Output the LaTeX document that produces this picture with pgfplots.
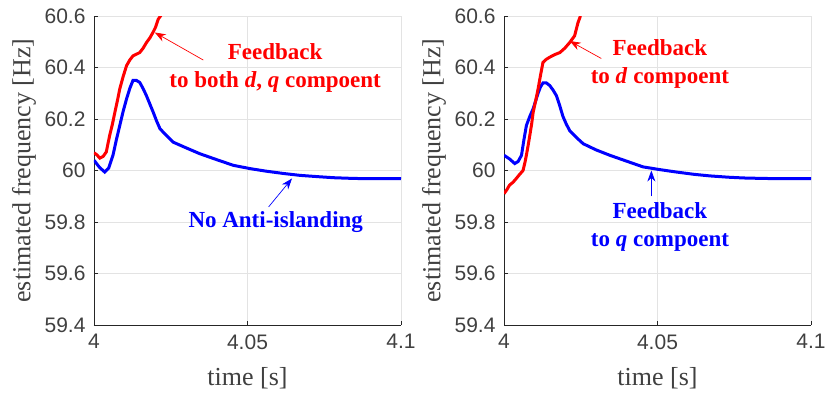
\documentclass[border=0pt]{standalone}
\usepackage{pgfplots}
\pgfplotsset{compat=1.18}
\usepackage{fontspec}
\setmainfont{Liberation Serif}
\setsansfont{Liberation Sans}
\usetikzlibrary{arrows.meta}
\definecolor{tickgray}{HTML}{404040}
\definecolor{gridgray}{HTML}{E3E3E3}
\definecolor{axgray}{HTML}{262626}
\definecolor{myred}{HTML}{FF0000}
\definecolor{myblue}{HTML}{0000FF}
\tikzset{ann/.style={font=\fontsize{23}{28}\selectfont\bfseries, align=center}}

\pgfplotstableread{
t f
4.0000 60.040
4.0018 60.012
4.0035 59.994
4.0048 60.010
4.0062 60.060
4.0073 60.120
4.0084 60.175
4.0095 60.230
4.0106 60.278
4.0117 60.320
4.0127 60.350
4.0138 60.350
4.0149 60.342
4.0160 60.318
4.0171 60.290
4.0182 60.258
4.0193 60.226
4.0204 60.192
4.0215 60.162
4.0236 60.136
4.0258 60.110
4.0300 60.088
4.0345 60.065
4.0400 60.042
4.0454 60.020
4.0510 60.007
4.0563 59.997
4.0620 59.988
4.0672 59.981
4.0730 59.976
4.0780 59.972
4.0850 59.969
4.1000 59.968
}\blueA

\pgfplotstableread{
t f
4.0000 60.069
4.0010 60.060
4.0019 60.048
4.0030 60.055
4.0040 60.072
4.0051 60.136
4.0060 60.180
4.0068 60.226
4.0076 60.270
4.0084 60.317
4.0095 60.365
4.0106 60.407
4.0117 60.430
4.0127 60.445
4.0149 60.458
4.0160 60.475
4.0171 60.497
4.0182 60.515
4.0192 60.536
4.0200 60.555
4.0209 60.587
4.0220 60.606
}\redA

\pgfplotstableread{
t f
4.0000 60.059
4.0018 60.045
4.0035 60.027
4.0046 60.035
4.0057 60.059
4.0065 60.120
4.0073 60.175
4.0084 60.210
4.0095 60.240
4.0103 60.270
4.0111 60.300
4.0119 60.325
4.0127 60.340
4.0138 60.340
4.0149 60.330
4.0160 60.312
4.0171 60.290
4.0182 60.250
4.0192 60.210
4.0203 60.180
4.0214 60.155
4.0236 60.128
4.0258 60.104
4.0300 60.080
4.0345 60.059
4.0400 60.036
4.0453 60.014
4.0510 60.003
4.0562 59.994
4.0620 59.985
4.0671 59.979
4.0730 59.974
4.0780 59.971
4.0850 59.969
4.1000 59.968
}\blueB

\pgfplotstableread{
t f
4.0000 59.910
4.0009 59.925
4.0018 59.943
4.0030 59.955
4.0040 59.969
4.0051 59.985
4.0062 60.000
4.0068 60.030
4.0073 60.060
4.0079 60.100
4.0084 60.136
4.0090 60.180
4.0095 60.226
4.0103 60.270
4.0111 60.317
4.0119 60.370
4.0127 60.420
4.0138 60.432
4.0149 60.440
4.0165 60.450
4.0182 60.458
4.0198 60.475
4.0214 60.497
4.0230 60.523
4.0241 60.574
4.0249 60.600
}\redB

\pgfplotsset{
  myaxis/.style={
    scale only axis,
    width=307pt, height=309pt,
    xmin=4, xmax=4.1, ymin=59.4, ymax=60.6,
    xtick={4,4.05,4.1},
    xticklabels={4,4.05,4.1},
    ytick={59.4,59.6,59.8,60,60.2,60.4,60.6},
    yticklabels={59.4,59.6,59.8,60,60.2,60.4,60.6},
    axis x line*=bottom, axis y line*=left,
    axis line style={axgray, line width=0.9pt, -},
    grid=major,
    major grid style={gridgray, line width=0.8pt},
    tick align=inside,
    major tick length=4pt,
    tick style={axgray, line width=0.8pt},
    ticklabel style={font=\fontsize{21}{21}\selectfont\sffamily, text=tickgray},
    /pgf/number format/assume math mode=true,
    yticklabel style={xshift=-5pt},
    xticklabel style={yshift=-6pt},
    xlabel={time [s]},
    ylabel={estimated frequency [Hz]},
    label style={font=\fontsize{26}{26}\selectfont, text=tickgray},
    xlabel style={at={(axis description cs:0.5,-0.172)}, anchor=center},
    ylabel style={at={(axis description cs:-0.228,0.5)}, anchor=center},
    clip=true,
  },
}

\begin{document}
\begin{tikzpicture}
\begin{axis}[myaxis, at={(0pt,0pt)}, anchor=south west]
  \addplot[myblue, line width=3pt] table[x=t,y=f] {\blueA};
  \addplot[myred, line width=3pt] table[x=t,y=f] {\redA};
  \draw[myred, line width=0.7pt, -{Stealth[length=11pt,width=8pt]}] (axis cs:4.0356,60.429) -- (axis cs:4.0198,60.536);
  \draw[myblue, line width=0.7pt, -{Stealth[length=11pt,width=8pt]}] (axis cs:4.0569,59.859) -- (axis cs:4.0645,59.969);
  \node[ann, text=myred] at (axis cs:4.0590,60.398) {Feedback\\to both \textit{d}, \textit{q} compoent};
  \node[ann, text=myblue] at (axis cs:4.0592,59.800) {No Anti-islanding};
\end{axis}
\begin{axis}[myaxis, at={(410pt,0pt)}, anchor=south west]
  \addplot[myblue, line width=3pt] table[x=t,y=f] {\blueB};
  \addplot[myred, line width=3pt] table[x=t,y=f] {\redB};
  \draw[myred, line width=0.7pt, -{Stealth[length=11pt,width=8pt]}] (axis cs:4.0317,60.435) -- (axis cs:4.0214,60.503);
  \draw[myblue, line width=0.7pt, -{Stealth[length=11pt,width=8pt]}] (axis cs:4.0480,59.900) -- (axis cs:4.0480,60.000);
  \node[ann, text=myred] at (axis cs:4.0508,60.415) {Feedback\\to \textit{d} compoent};
  \node[ann, text=myblue] at (axis cs:4.0508,59.779) {Feedback\\to \textit{q} compoent};
\end{axis}
\pgfresetboundingbox
\path[use as bounding box] (-94pt,-72pt) rectangle (731pt,325pt);
\end{tikzpicture}
\end{document}
